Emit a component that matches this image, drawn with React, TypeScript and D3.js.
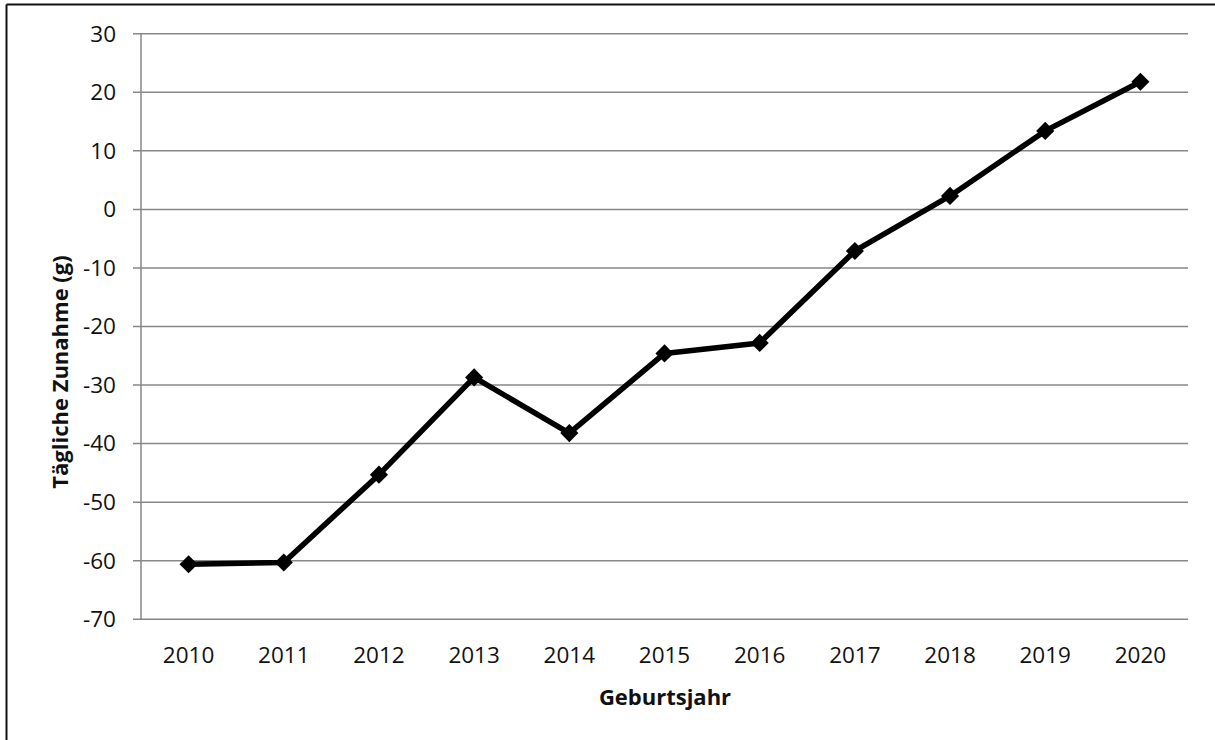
import React, { useEffect, useRef } from "react";
import * as d3 from "d3";

const years: string[] = [
  "2010", "2011", "2012", "2013", "2014", "2015",
  "2016", "2017", "2018", "2019", "2020",
];
const zunahme: number[] = [
  -60.6, -60.3, -45.3, -28.7, -38.2, -24.6, -22.8, -7.1, 2.3, 13.4, 21.8,
];
const yTicks: number[] = [30, 20, 10, 0, -10, -20, -30, -40, -50, -60, -70];

const W = 1215;
const H = 740;

const App: React.FC = () => {
  const ref = useRef<SVGSVGElement | null>(null);

  useEffect(() => {
    if (!ref.current) return;
    const svg = d3.select(ref.current);
    svg.selectAll("*").remove();

    const m = { top: 33.7, right: 1188, bottom: 619.3, left: 141 };
    const font = "'Open Sans', sans-serif";

    const x = d3.scaleBand().domain(years).range([m.left, m.right]);
    const y = d3.scaleLinear().domain([-70, 30]).range([m.bottom, m.top]);

    // Rahmen
    svg.append("line")
      .attr("x1", 6.5).attr("x2", 6.5).attr("y1", 4.5).attr("y2", H)
      .attr("stroke", "#111").attr("stroke-width", 2);
    svg.append("line")
      .attr("x1", 6.5).attr("x2", W).attr("y1", 4.5).attr("y2", 4.5)
      .attr("stroke", "#111").attr("stroke-width", 2);

    // Gitterlinien
    svg.append("g")
      .selectAll("line")
      .data(yTicks)
      .join("line")
      .attr("x1", m.left - 8)
      .attr("x2", m.right)
      .attr("y1", (d) => y(d))
      .attr("y2", (d) => y(d))
      .attr("stroke", "#878787")
      .attr("stroke-width", 1.5);

    // Y-Achse
    svg.append("line")
      .attr("x1", m.left).attr("x2", m.left)
      .attr("y1", m.top).attr("y2", m.bottom)
      .attr("stroke", "#878787").attr("stroke-width", 1.5);

    svg.append("g")
      .selectAll("text")
      .data(yTicks)
      .join("text")
      .attr("x", 116)
      .attr("y", (d) => y(d))
      .attr("dy", "0.35em")
      .attr("text-anchor", "end")
      .attr("font-family", font)
      .attr("font-size", 22.5)
      .attr("fill", "#111")
      .text((d) => String(d));

    // X-Achse Beschriftung
    svg.append("g")
      .selectAll("text")
      .data(years)
      .join("text")
      .attr("x", (d) => x(d)! + x.bandwidth() / 2)
      .attr("y", 663)
      .attr("text-anchor", "middle")
      .attr("font-family", font)
      .attr("font-size", 22.5)
      .attr("fill", "#111")
      .text((d) => d);

    // Achsentitel
    svg.append("text")
      .attr("x", 665)
      .attr("y", 705)
      .attr("text-anchor", "middle")
      .attr("font-family", font)
      .attr("font-weight", "bold")
      .attr("font-size", 22)
      .attr("fill", "#111")
      .text("Geburtsjahr");

    svg.append("text")
      .attr("transform", "translate(68,372) rotate(-90)")
      .attr("text-anchor", "middle")
      .attr("font-family", font)
      .attr("font-weight", "bold")
      .attr("font-size", 22)
      .attr("fill", "#111")
      .text("Tägliche Zunahme (g)");

    // Linie
    const pts = years.map((yr, i) => ({ yr, v: zunahme[i] }));
    const line = d3.line<{ yr: string; v: number }>()
      .x((d) => x(d.yr)! + x.bandwidth() / 2)
      .y((d) => y(d.v));

    svg.append("path")
      .datum(pts)
      .attr("d", line)
      .attr("fill", "none")
      .attr("stroke", "#000")
      .attr("stroke-width", 5.5)
      .attr("stroke-linejoin", "round");

    const diamond = d3.symbol().type(d3.symbolDiamond2).size(210);
    svg.append("g")
      .selectAll("path")
      .data(pts)
      .join("path")
      .attr("transform", (d) => `translate(${x(d.yr)! + x.bandwidth() / 2},${y(d.v)})`)
      .attr("d", diamond)
      .attr("fill", "#000");
  }, []);

  return (
    <svg
      ref={ref}
      width={W}
      height={H}
      style={{ position: "absolute", left: 0, top: 0, background: "#fff" }}
    />
  );
};

export default App;
